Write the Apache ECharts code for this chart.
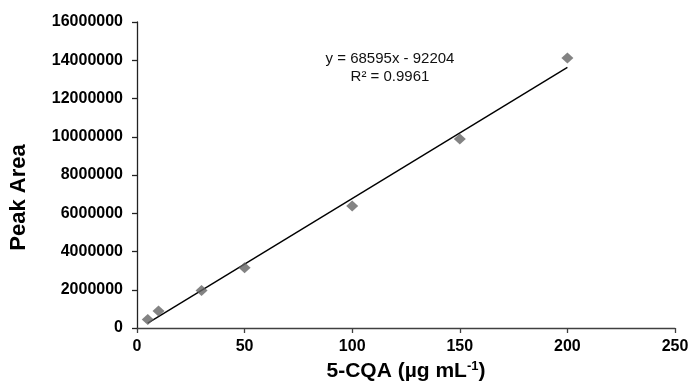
<!DOCTYPE html>
<html>
<head>
<meta charset="utf-8">
<script src="https://cdn.jsdelivr.net/npm/echarts@6/dist/echarts.min.js"></script>
<style>
html,body{margin:0;padding:0;background:#fff;}
#c{width:689px;height:383px;}
</style>
</head>
<body>
<div id="c"></div>
<script>
// Data
const concentrations = [5, 10, 30, 50, 100, 150, 200];
const peakAreas = [440000, 890000, 1960000, 3150000, 6380000, 9880000, 14120000];
// Linear trendline as printed on the chart
const trendSlope = 68595;
const trendIntercept = -92204;
const trendRange = [5, 200];
const equationLines = ['y = 68595x - 92204', 'R\u00b2 = 0.9961'];
const xTicks = [0, 50, 100, 150, 200, 250];
const yTicks = [0, 2000000, 4000000, 6000000, 8000000, 10000000, 12000000, 14000000, 16000000];

const scatterData = concentrations.map((x, i) => [x, peakAreas[i]]);
const trendData = trendRange.map(x => [x, trendSlope * x + trendIntercept]);

const chart = echarts.init(document.getElementById('c'), null, {renderer: 'canvas'});
const FONT = '"Liberation Sans", Arial, sans-serif';
chart.setOption({
  animation: false,
  backgroundColor: '#ffffff',
  grid: {left: 137, right: 14, top: 22, bottom: 55, containLabel: false, outerBoundsMode: 'none'},
  xAxis: {
    type: 'value', min: xTicks[0], max: xTicks[xTicks.length - 1], interval: 50,
    splitLine: {show: false},
    axisLine: {show: true, onZero: false, lineStyle: {color: '#404040', width: 1.3}},
    axisTick: {show: true, inside: false, length: 5, lineStyle: {color: '#404040', width: 1.3}},
    axisLabel: {margin: 11, fontFamily: FONT, fontWeight: 'bold', fontSize: 16, color: '#000', formatter: v => String(v)},
    name: '{t|5-CQA (\u00b5g mL}{s|-1}{t|)}',
    nameLocation: 'middle', nameGap: 32,
    nameTextStyle: {
      rich: {
        t: {fontFamily: FONT, fontWeight: 'bold', fontSize: 21, color: '#000', lineHeight: 23},
        s: {fontFamily: FONT, fontWeight: 'bold', fontSize: 13, color: '#000', verticalAlign: 'top', lineHeight: 23, padding: [0, 0, 8, 0]}
      }
    }
  },
  yAxis: {
    type: 'value', min: yTicks[0], max: yTicks[yTicks.length - 1], interval: 2000000,
    splitLine: {show: false},
    axisLine: {show: true, onZero: false, lineStyle: {color: '#222', width: 1.3}},
    axisTick: {show: true, inside: false, length: 5, lineStyle: {color: '#222', width: 1.3}},
    axisLabel: {margin: 14, fontFamily: FONT, fontWeight: 'bold', fontSize: 16, color: '#000', formatter: v => String(v)}
  },
  graphic: [
    {
      type: 'text', x: 18.5, y: 197.5, rotation: Math.PI / 2,
      style: {text: 'Peak Area', font: 'bold 22px ' + FONT, fill: '#000', textAlign: 'center', textVerticalAlign: 'middle'}
    },
    {
      type: 'text', x: 390, y: 68,
      style: {text: equationLines.join('\n'), font: '15px ' + FONT, fill: '#111', textAlign: 'center', textVerticalAlign: 'middle', lineHeight: 17.5}
    }
  ],
  series: [
    {
      type: 'line', data: trendData, showSymbol: false, symbol: 'none',
      lineStyle: {color: '#000', width: 1.4}, z: 2, silent: true
    },
    {
      type: 'scatter', data: scatterData, symbol: 'diamond', symbolSize: [12, 11],
      itemStyle: {color: '#646464'}, z: 3
    }
  ]
});
</script>
</body>
</html>
